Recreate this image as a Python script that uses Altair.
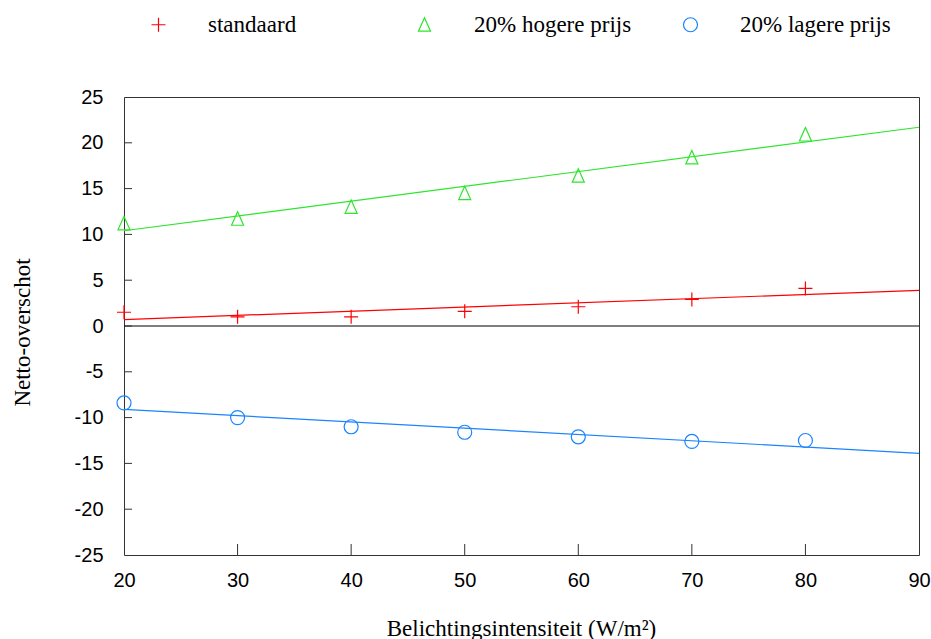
import altair as alt
import pandas as pd

# ---- data ----
series = ["standaard", "20% hogere prijs", "20% lagere prijs"]
colors = ["#ff0000", "#2ee52e", "#1a84ff"]
shapes = ["M-1,0H1M0,-1V1", "M0,-1L-0.86,0.92L0.86,0.92Z", "circle"]

x_vals = [20, 30, 40, 50, 60, 70, 80]
standaard = [1.5, 1.0, 1.0, 1.6, 2.1, 2.9, 4.1]
hoger = [11.2, 11.7, 13.0, 14.5, 16.4, 18.4, 20.9]
lager = [-8.4, -10.0, -11.0, -11.6, -12.1, -12.6, -12.5]

fit_x = [20, 90]
fit_standaard = [0.7, 3.9]
fit_hoger = [10.4, 21.7]
fit_lager = [-9.1, -13.9]

x_ticks = [20, 30, 40, 50, 60, 70, 80, 90]
y_ticks = [-25, -20, -15, -10, -5, 0, 5, 10, 15, 20, 25]
x_inner_ticks = [30, 40, 50, 60, 70, 80]
y_inner_ticks = [-20, -15, -10, -5, 0, 5, 10, 15, 20]

# ---- tables ----
pts = pd.DataFrame(
    [{"x": x, "y": v, "serie": s}
     for s, vals in zip(series, [standaard, hoger, lager])
     for x, v in zip(x_vals, vals)]
)

W, H = 795, 458
xscale = alt.Scale(domain=[20, 90], nice=False, zero=False)
yscale = alt.Scale(domain=[-25, 25], nice=False, zero=False)
cscale = alt.Scale(domain=series, range=colors)
sscale = alt.Scale(domain=series, range=shapes)

leg = alt.Legend(
    title=None, orient="none", legendX=23, legendY=-84, direction="horizontal",
    gridAlign="all", columnPadding=47, labelOffset=38, padding=0,
    labelFont="Liberation Serif", labelFontSize=23, labelColor="black",
    symbolSize=196, symbolStrokeWidth=1.2,
)

xaxis = alt.Axis(values=x_ticks, labelPadding=15, labelFlush=False, labelExpr="'' + datum.value",
                 title="Belichtingsintensiteit (W/m²)",
                 titleX=397, titleY=80, titleBaseline="alphabetic", titleAlign="center")
yaxis = alt.Axis(values=y_ticks, labelPadding=21, labelFlush=False, labelExpr="'' + datum.value",
                 title="Netto-overschot",
                 titleX=-95, titleY=235, titleBaseline="alphabetic", titleAlign="center",
                 titleAngle=270)

points = alt.Chart(pts).mark_point(filled=False, size=196, strokeWidth=1.2, opacity=1).encode(
    x=alt.X("x:Q", scale=xscale, axis=xaxis),
    y=alt.Y("y:Q", scale=yscale, axis=yaxis),
    color=alt.Color("serie:N", scale=cscale, legend=leg),
    shape=alt.Shape("serie:N", scale=sscale, legend=leg),
)

fit_layers = []
for s, c, vals in zip(series, colors, [fit_standaard, fit_hoger, fit_lager]):
    df = pd.DataFrame({"x": fit_x, "y": vals})
    fit_layers.append(
        alt.Chart(df).mark_line(strokeWidth=1.2, color=c).encode(
            x=alt.X("x:Q", scale=xscale), y=alt.Y("y:Q", scale=yscale)
        )
    )

zero = alt.Chart(pd.DataFrame({"v": [0]})).mark_rule(color="black", strokeWidth=1).encode(
    y=alt.Y("v:Q", scale=yscale),
    x=alt.value(0), x2=alt.value(W),
)

yt = alt.Chart(pd.DataFrame({"v": y_inner_ticks})).mark_rule(color="#333", strokeWidth=1).encode(
    y=alt.Y("v:Q", scale=yscale),
    x=alt.value(0), x2=alt.value(8),
)
xt = alt.Chart(pd.DataFrame({"v": x_inner_ticks})).mark_rule(color="#333", strokeWidth=1).encode(
    x=alt.X("v:Q", scale=xscale),
    y=alt.value(H), y2=alt.value(H - 11),
)

chart = alt.layer(points, *fit_layers, zero, yt, xt).properties(
    width=W, height=H,
    autosize=alt.AutoSizeParams(type="none"),
    padding={"left": 124, "top": 97, "right": 12, "bottom": 84},
).configure_view(stroke="#333", strokeWidth=1).configure_axis(
    grid=False, ticks=False, domain=False,
    labelFont="Liberation Sans", labelFontSize=20, labelColor="black",
    titleFont="Liberation Serif", titleFontSize=23, titleFontWeight="normal",
    titleColor="black",
)

chart.save("out.html", embed_options={"renderer": "svg", "actions": False})
